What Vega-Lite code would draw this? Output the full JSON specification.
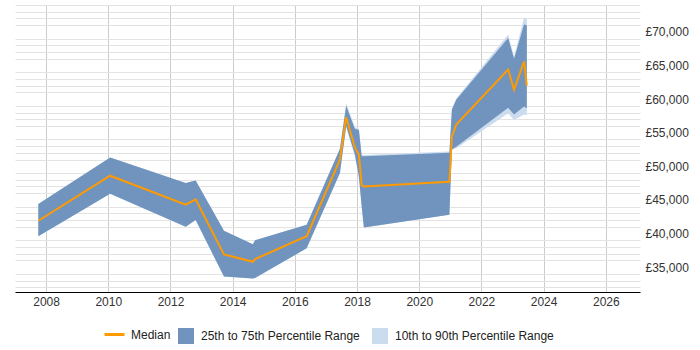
{
  "$schema": "https://vega.github.io/schema/vega-lite/v6.json",
  "width": 625,
  "height": 287,
  "autosize": {"type": "none"},
  "padding": {"left": 15, "top": 5, "right": 60, "bottom": 58},
  "background": "white",
  "config": {
    "view": {"stroke": null},
    "font": "Arial, Liberation Sans, sans-serif"
  },
  "data": {
    "values": [
      {"year": 2007.75, "p10": 39600, "p25": 39600, "median": 41900, "p75": 44400, "p90": 44400},
      {"year": 2010.06, "p10": 45900, "p25": 45900, "median": 48600, "p75": 51300, "p90": 51300},
      {"year": 2012.49, "p10": 41000, "p25": 41000, "median": 44300, "p75": 47500, "p90": 47500},
      {"year": 2012.81, "p10": 42000, "p25": 42000, "median": 45100, "p75": 47900, "p90": 47900},
      {"year": 2013.72, "p10": 33600, "p25": 33600, "median": 36900, "p75": 40400, "p90": 40400},
      {"year": 2014.65, "p10": 33300, "p25": 33300, "median": 35800, "p75": 38400, "p90": 38400},
      {"year": 2014.72, "p10": 33400, "p25": 33400, "median": 36200, "p75": 39000, "p90": 39000},
      {"year": 2016.38, "p10": 37800, "p25": 37800, "median": 39600, "p75": 41300, "p90": 41300},
      {"year": 2017.45, "p10": 49000, "p25": 49000, "median": 51000, "p75": 52600, "p90": 52600},
      {"year": 2017.65, "p10": 55800, "p25": 56000, "median": 57300, "p75": 59000, "p90": 59400},
      {"year": 2017.93, "p10": 51500, "p25": 51800, "median": 52800, "p75": 55600, "p90": 55800},
      {"year": 2018.06, "p10": 48300, "p25": 48500, "median": 51700, "p75": 55400, "p90": 55600},
      {"year": 2018.15, "p10": 44000, "p25": 44000, "median": 47200, "p75": 51500, "p90": 51700},
      {"year": 2018.22, "p10": 40900, "p25": 40900, "median": 47000, "p75": 51500, "p90": 51700},
      {"year": 2020.97, "p10": 42800, "p25": 42800, "median": 47700, "p75": 52000, "p90": 52200},
      {"year": 2021.05, "p10": 52500, "p25": 52500, "median": 54400, "p75": 58400, "p90": 58600},
      {"year": 2021.19, "p10": 52700, "p25": 52900, "median": 56200, "p75": 59900, "p90": 60100},
      {"year": 2022.86, "p10": 57900, "p25": 58700, "median": 64400, "p75": 69100, "p90": 69600},
      {"year": 2023.05, "p10": 56900, "p25": 57700, "median": 61400, "p75": 66000, "p90": 66300},
      {"year": 2023.37, "p10": 57700, "p25": 58900, "median": 65600, "p75": 71100, "p90": 72100},
      {"year": 2023.46, "p10": 57600, "p25": 58600, "median": 62000, "p75": 71000, "p90": 72000}
    ]
  },
  "encoding": {
    "x": {
      "field": "year",
      "type": "quantitative",
      "scale": {"domain": [2007, 2027.1], "nice": false, "zero": false},
      "axis": {
        "title": null,
        "values": [2008, 2010, 2012, 2014, 2016, 2018, 2020, 2022, 2024, 2026],
        "format": "d",
        "ticks": false,
        "labelFontSize": 12,
        "labelColor": "#333333",
        "labelPadding": 4,
        "labelFlush": false,
        "domainColor": "#000000",
        "domainWidth": 1,
        "gridColor": "#cccccc"
      }
    }
  },
  "layer": [
    {
      "mark": {"type": "area", "opacity": 1},
      "encoding": {
        "y": {
          "field": "p10",
          "type": "quantitative",
          "scale": {"domain": [31300, 74000], "nice": false, "zero": false},
          "axis": {
            "title": null,
            "orient": "left",
            "values": [32000, 33000, 34000, 36000, 37000, 38000, 39000, 41000, 42000, 43000, 44000, 46000, 47000, 48000, 49000, 51000, 52000, 53000, 54000, 56000, 57000, 58000, 59000, 61000, 62000, 63000, 64000, 66000, 67000, 68000, 69000, 71000, 72000, 73000, 74000],
            "labels": false,
            "ticks": false,
            "domain": false,
            "gridColor": "#e3e3e3"
          }
        },
        "y2": {"field": "p90"},
        "fill": {
          "datum": "10th to 90th Percentile Range",
          "scale": {
            "domain": ["25th to 75th Percentile Range", "10th to 90th Percentile Range"],
            "range": ["#7094bd", "#cbdcef"]
          },
          "legend": {
            "title": null,
            "orient": "none",
            "direction": "horizontal",
            "legendX": 163,
            "legendY": 323,
            "labelFontSize": 12,
            "labelColor": "#222222",
            "symbolType": "square",
            "symbolSize": 256,
            "symbolStrokeWidth": 0,
            "symbolOpacity": 0.85,
            "labelOffset": 7,
            "columnPadding": 12
          }
        }
      }
    },
    {
      "mark": {"type": "area", "opacity": 1},
      "encoding": {
        "y": {
          "field": "p25",
          "type": "quantitative",
          "axis": {
            "title": null,
            "orient": "right",
            "values": [35000, 40000, 45000, 50000, 55000, 60000, 65000, 70000],
            "labelExpr": "'£' + format(datum.value, ',')",
            "labelFontSize": 12,
            "labelColor": "#333333",
            "labelPadding": 5,
            "ticks": false,
            "domain": false,
            "gridColor": "#cccccc"
          }
        },
        "y2": {"field": "p75"},
        "fill": {"datum": "25th to 75th Percentile Range"}
      }
    },
    {
      "mark": {"type": "line", "strokeWidth": 2},
      "encoding": {
        "y": {"field": "median", "type": "quantitative", "axis": null},
        "stroke": {
          "datum": "Median",
          "scale": {"domain": ["Median"], "range": ["#ff9a00"]},
          "legend": {
            "title": null,
            "orient": "none",
            "legendX": 88,
            "legendY": 318,
            "labelFontSize": 12,
            "labelColor": "#222222",
            "symbolType": "stroke",
            "symbolSize": 400,
            "symbolStrokeWidth": 3,
            "labelOffset": 5
          }
        }
      }
    }
  ],
  "resolve": {"axis": {"y": "independent"}}
}
